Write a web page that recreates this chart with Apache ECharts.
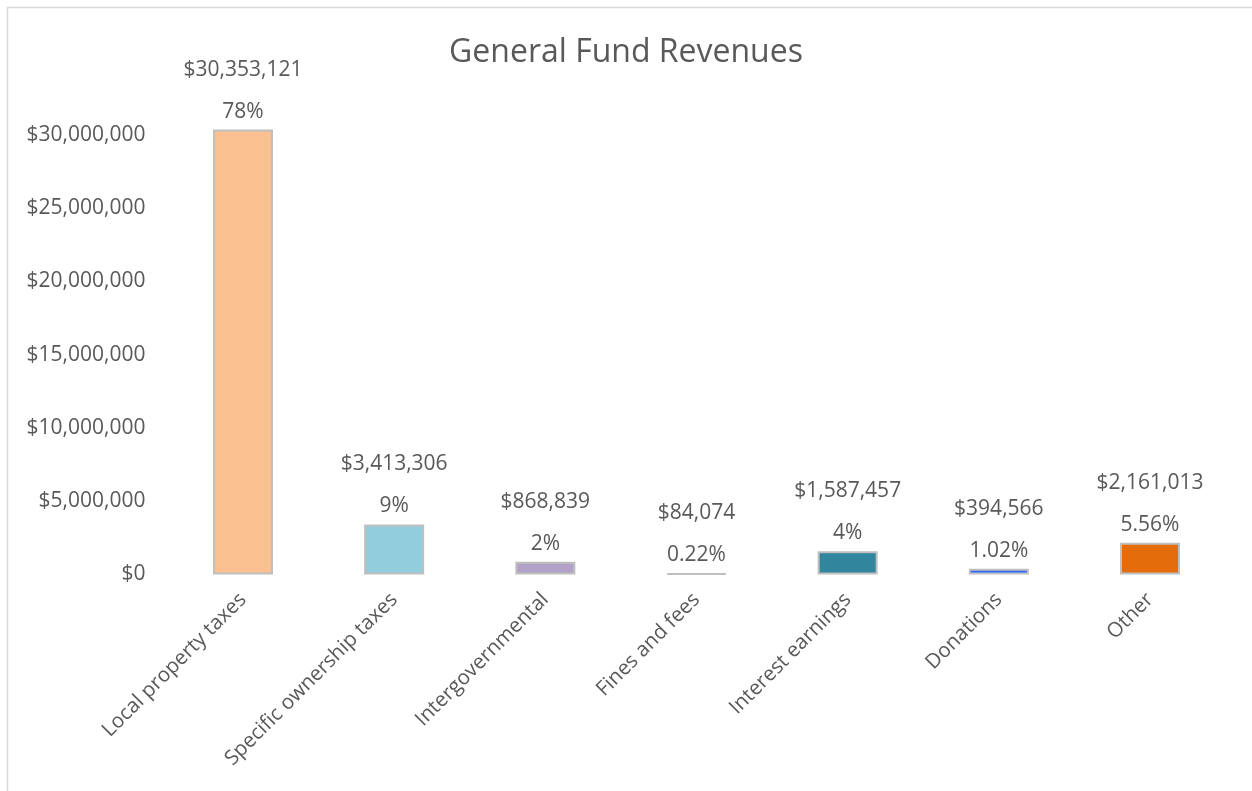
<!DOCTYPE html>
<html>
<head>
<meta charset="utf-8">
<script src="https://cdn.jsdelivr.net/npm/echarts@6/dist/echarts.min.js"></script>
<style>
  html, body { margin: 0; padding: 0; background: #fff; }
  #main { width: 1252px; height: 791px; }
</style>
</head>
<body>
<div id="main"></div>
<script>
var categories = ['Local property taxes', 'Specific ownership taxes', 'Intergovernmental',
    'Fines and fees', 'Interest earnings', 'Donations', 'Other'];
var revenues = [30353121, 3413306, 868839, 84074, 1587457, 394566, 2161013];
var shares = ['78%', '9%', '2%', '0.22%', '4%', '1.02%', '5.56%'];
var barColors = ['#FAC090', '#92CDDC', '#B3A2C7', '#BFBFBF', '#31859C', '#3366FF', '#E46C0A'];

var font = 'Open Sans';
var textColor = '#595959';

function money(v) {
    return '$' + Math.round(v).toString().replace(/\B(?=(\d{3})+(?!\d))/g, ',');
}

var myChart = echarts.init(document.getElementById('main'));
option = {
    animation: false,
    backgroundColor: '#fff',
    graphic: [{
        type: 'rect',
        shape: { x: 7.5, y: 7.5, width: 1300, height: 900 },
        style: { fill: 'none', stroke: '#D9D9D9', lineWidth: 1.5 },
        silent: true
    }],
    title: {
        text: 'General Fund Revenues',
        left: 'center',
        top: 32,
        textStyle: {
            color: textColor,
            fontFamily: font,
            fontSize: 32,
            fontWeight: 'normal'
        }
    },
    grid: {
        left: 167.4,
        right: 26.4,
        top: 61.5,
        bottom: 216.5,
        containLabel: false
    },
    xAxis: {
        type: 'category',
        data: categories,
        axisLine: { show: false },
        axisTick: { show: false },
        axisLabel: {
            rotate: 45,
            interval: 0,
            margin: 22,
            color: textColor,
            fontFamily: font,
            fontSize: 20.5
        }
    },
    yAxis: {
        type: 'value',
        min: 0,
        max: 35000000,
        interval: 5000000,
        splitLine: { show: false },
        axisLine: { show: false },
        axisTick: { show: false },
        axisLabel: {
            showMaxLabel: false,
            margin: 22,
            color: textColor,
            fontFamily: font,
            fontSize: 21,
            formatter: function (v) { return v >= 35000000 ? '' : money(v); }
        }
    },
    series: [{
        name: 'Revenues',
        type: 'bar',
        barWidth: 60,
        data: revenues.map(function (v, i) {
            return {
                value: v,
                itemStyle: { color: barColors[i], borderColor: '#BFBFBF', borderWidth: 2 }
            };
        }),
        label: {
            show: true,
            position: 'top',
            distance: 5,
            formatter: function (p) {
                return '{v|' + money(p.value) + '}\n{g|}\n{p|' + shares[p.dataIndex] + '}';
            },
            rich: {
                v: { color: textColor, fontFamily: font, fontSize: 21, lineHeight: 26 },
                g: { lineHeight: 16 },
                p: { color: textColor, fontFamily: font, fontSize: 21, lineHeight: 26 }
            }
        }
    }]
};
myChart.setOption(option);
</script>
</body>
</html>
